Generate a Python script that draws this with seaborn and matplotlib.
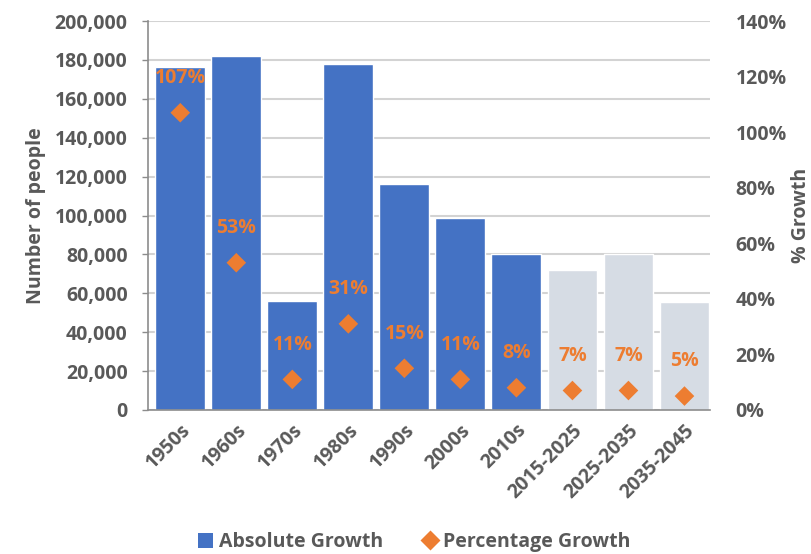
import numpy as np
import pandas as pd
import matplotlib
matplotlib.use("Agg")
import matplotlib.pyplot as plt
import seaborn as sns
from matplotlib.ticker import FuncFormatter, PercentFormatter
from matplotlib.lines import Line2D
from matplotlib.patches import Patch

periods = ["1950s", "1960s", "1970s", "1980s", "1990s", "2000s", "2010s",
           "2015-2025", "2025-2035", "2035-2045"]
absolute_growth = [176300, 182000, 56000, 178000, 116200, 98700, 80200,
                   72000, 80200, 55500]
percentage_growth = [1.07, 0.53, 0.11, 0.31, 0.15, 0.11, 0.08,
                     0.07, 0.07, 0.05]
projected = [False] * 7 + [True] * 3

BLUE = "#4472C4"
LIGHT = "#D6DCE4"
ORANGE = "#ED7D31"
GRAY = "#595959"
FS = 14

sns.set_style("white")
plt.rcParams["font.family"] = ["Open Sans", "DejaVu Sans"]
plt.rcParams["font.weight"] = "bold"

df = pd.DataFrame({"period": periods, "abs": absolute_growth,
                   "pct": percentage_growth,
                   "kind": ["Projected" if p else "Actual" for p in projected]})

fig = plt.figure(figsize=(8.12, 5.54), dpi=100)
ax = fig.add_axes([0.182, 0.26, 0.692, 0.702])

sns.barplot(data=df, x="period", y="abs", hue="kind",
            palette={"Actual": BLUE, "Projected": LIGHT},
            dodge=False, width=0.89, legend=False, ax=ax, zorder=2,
            saturation=1)
ax.set_ylim(0, 200000)
ax.set_xlim(-0.58, 9.45)
ax.set_yticks(np.arange(0, 200001, 20000))
ax.yaxis.set_major_formatter(FuncFormatter(lambda v, p: f"{int(v):,}"))
ax.grid(axis="y", color="#D3D3D3", linewidth=1.5, zorder=0)
ax.set_axisbelow(True)
ax.set_xlabel("")
ax.set_ylabel("Number of people", fontsize=FS, color=GRAY,
              fontweight="bold", labelpad=6)
for s in ["top", "right"]:
    ax.spines[s].set_visible(False)
for s in ["left", "bottom"]:
    ax.spines[s].set_color("#8C8C8C")
    ax.spines[s].set_linewidth(1.2)
ax.tick_params(axis="y", which="both", left=True, length=4.5, width=1,
               color="#8C8C8C", labelsize=FS, labelcolor=GRAY, pad=10)
ax.tick_params(axis="x", bottom=False, labelsize=FS, labelcolor=GRAY, pad=4)
for lab in ax.get_xticklabels():
    lab.set_rotation(45)
    lab.set_ha("right")
    lab.set_rotation_mode("anchor")
    lab.set_fontweight("bold")
for lab in ax.get_yticklabels():
    lab.set_fontweight("bold")

ax2 = ax.twinx()
ax2.set_ylim(0, 1.4)
ax2.set_yticks(np.arange(0, 1.41, 0.2))
ax2.yaxis.set_major_formatter(PercentFormatter(1.0, decimals=0))
sns.scatterplot(x=np.arange(len(periods)), y=df["pct"], marker="D",
                color=ORANGE, s=100, edgecolor="none", ax=ax2, zorder=3)
for i, v in enumerate(percentage_growth):
    ax2.annotate(f"{v:.0%}", (i, v), xytext=(0, 25), textcoords="offset points",
                 ha="center", va="center", color=ORANGE, fontsize=FS,
                 fontweight="bold")
for s in ["top", "right", "left", "bottom"]:
    ax2.spines[s].set_visible(False)
ax2.tick_params(axis="y", right=False, labelsize=FS, labelcolor=GRAY, pad=15)
for lab in ax2.get_yticklabels():
    lab.set_fontweight("bold")
ax2.set_ylabel("% Growth", fontsize=FS, color=GRAY, fontweight="bold",
               labelpad=3)
ax2.set_xlim(ax.get_xlim())

handles = [Patch(facecolor=BLUE, edgecolor="none", label="Absolute Growth"),
           Line2D([0], [0], marker="D", color="none", markerfacecolor=ORANGE,
                  markeredgecolor="none", markersize=10, label="Percentage Growth")]
leg = fig.legend(handles=handles, loc="center", bbox_to_anchor=(0.51, 0.021),
                 ncol=2, frameon=False, fontsize=FS, handlelength=0.8,
                 handleheight=0.8, handletextpad=0.3, columnspacing=2.0)
for t in leg.get_texts():
    t.set_color(GRAY)
    t.set_fontweight("bold")

fig.savefig("out.png", dpi=100)
